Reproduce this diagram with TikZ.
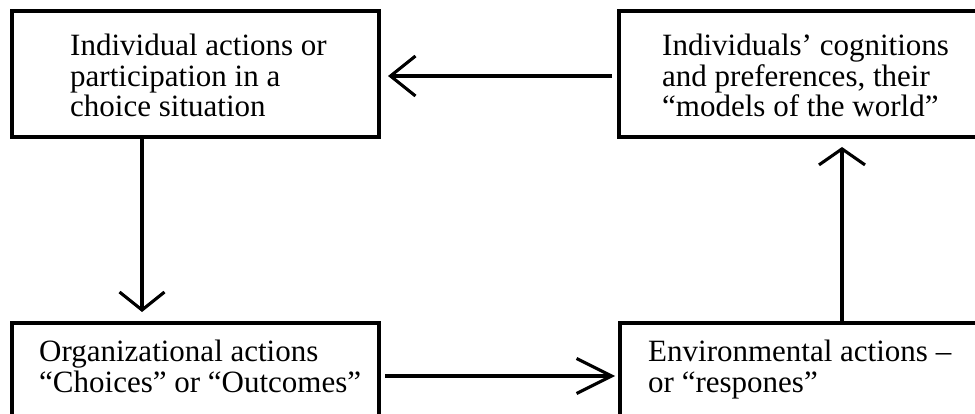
\documentclass[tikz,border=0pt]{standalone}
\usepackage{fontspec}
\setmainfont{Liberation Serif}
\usetikzlibrary{arrows.meta,calc}
\begin{document}
\begin{tikzpicture}[x=1pt,y=-1pt,
  box/.style={draw, line width=3.4pt, rectangle, outer sep=0pt, inner sep=0pt},
  txt/.style={font=\fontsize{31}{30.5}\selectfont, align=left, inner sep=0pt, anchor=base west},
  conn/.style={line width=3.1pt}]
\useasboundingbox (0,0) rectangle (975,414);
\clip (0,0) rectangle (975,414);
\fill[white] (0,0) rectangle (975,414);
\node[box, minimum width=367pt, minimum height=126pt, anchor=north west] (TL) at (12,11) {};
\node[box, minimum width=400pt, minimum height=126pt, anchor=north west] (TR) at (619,11) {};
\node[box, minimum width=367pt, minimum height=106pt, anchor=north west] (BL) at (12,323) {};
\node[box, minimum width=400pt, minimum height=106pt, anchor=north west] (BR) at (620,323) {};
\node[txt] (tTL) at (70,117) {Individual actions or\\participation in a\\choice situation};
\node[txt] (tTR) at (662,117) {Individuals’ cognitions\\and preferences, their\\“models of the world”};
\node[txt] (tBL) at (39,392) {Organizational actions\\“Choices” or “Outcomes”};
\node[txt] (tBR) at (648,392) {Environmental actions –\\or “respones”};
\draw[conn, -{Straight Barb[length=25pt,width=40pt]}] ($(TR.west)+(-7,2)$) -- ($(TL.east)+(9,2)$);
\draw[conn, -{Straight Barb[length=35pt,width=35pt]}] ($(BL.east)+(6,0)$) -- ($(BR.west)+(-5,0)$);
\draw[conn, -{Straight Barb[length=18pt,width=45pt]}] ($(TL.south west)+(130,0)$) -- ($(BL.north west)+(130,-11)$);
\draw[conn, -{Straight Barb[length=16pt,width=46pt]}] ($(BR.north west)+(222,0)$) -- ($(TR.south west)+(223,10)$);
\end{tikzpicture}
\end{document}
